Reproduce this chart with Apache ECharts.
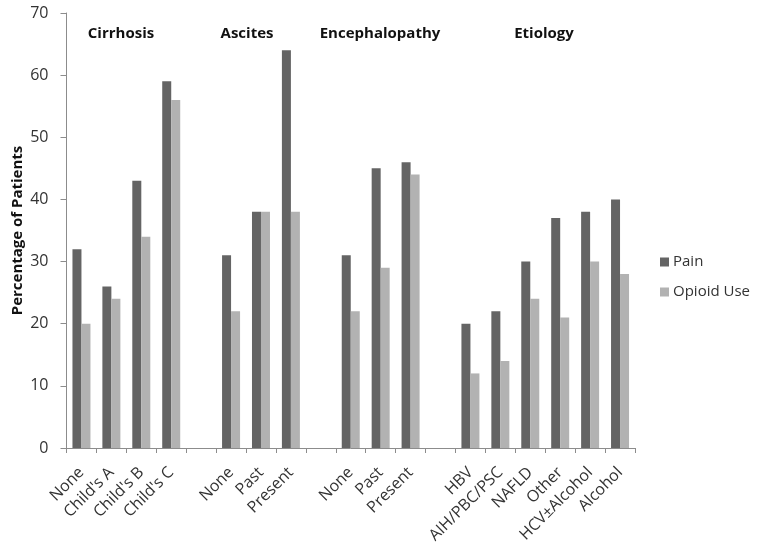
<!DOCTYPE html>
<html>
<head>
<meta charset="utf-8">
<script src="https://cdn.jsdelivr.net/npm/echarts@6/dist/echarts.min.js"></script>
<style>html,body{margin:0;padding:0;background:#fff;}#c{width:762px;height:552px;}</style>
</head>
<body>
<div id="c"></div>
<script>
var categories = ['None', "Child's A", "Child's B", "Child's C", '', 'None', 'Past', 'Present', '', 'None', 'Past', 'Present', '', 'HBV', 'AIH/PBC/PSC', 'NAFLD', 'Other', 'HCV\u00B1Alcohol', 'Alcohol'];
var painValues = [32, 26, 43, 59, null, 31, 38, 64, null, 31, 45, 46, null, 20, 22, 30, 37, 38, 40];
var opioidValues = [20, 24, 34, 56, null, 22, 38, 38, null, 22, 29, 44, null, 12, 14, 24, 21, 30, 28];
var groupTitles = ['Cirrhosis', 'Ascites', 'Encephalopathy', 'Etiology'];
var yTicks = [0, 10, 20, 30, 40, 50, 60, 70];

var titleX = [121, 247, 380, 544];
var chart = echarts.init(document.getElementById('c'), null, {renderer: 'canvas'});
var axisColor = '#8c8c8c';
var textColor = '#333333';
var font = '"Open Sans", sans-serif';
chart.setOption({
  animation: false,
  backgroundColor: '#ffffff',
  grid: {left: 66.5, right: 127, top: 13, bottom: 104, containLabel: false, outerBoundsMode: 'none'},
  legend: {
    orient: 'vertical', left: 655, top: 248,
    itemWidth: 9, itemHeight: 9, itemGap: 12, icon: 'rect',
    textStyle: {fontFamily: font, fontSize: 15, color: textColor, lineHeight: 18, padding: [0, 0, 0, -1]},
    data: ['Pain', 'Opioid Use']
  },
  xAxis: {
    type: 'category', data: categories,
    axisLine: {lineStyle: {color: axisColor, width: 1}},
    axisTick: {show: true, length: 5, lineStyle: {color: axisColor}, interval: 0},
    axisLabel: {rotate: 45, interval: 0, margin: 22, fontFamily: font, fontSize: 16, color: textColor}
  },
  yAxis: {
    type: 'value', min: 0, max: 70, interval: 10,
    name: 'Percentage of Patients', nameLocation: 'middle', nameGap: 41, nameMoveOverlap: false,
    nameTextStyle: {fontFamily: font, fontSize: 15, fontWeight: 'bold', color: '#111'},
    axisLine: {show: true, lineStyle: {color: axisColor}},
    axisTick: {show: true, length: 6, inside: false, lineStyle: {color: axisColor}},
    axisLabel: {margin: 18, fontFamily: font, fontSize: 16, color: textColor,
      formatter: function (v) { return yTicks.indexOf(v) >= 0 ? String(v) : ''; }},
    splitLine: {show: false}
  },
  series: [
    {name: 'Pain', type: 'bar', data: painValues, barWidth: 9, barGap: '0%', itemStyle: {color: '#646464'}},
    {name: 'Opioid Use', type: 'bar', data: opioidValues, barWidth: 9, barGap: '0%', itemStyle: {color: '#b2b2b2'}}
  ],
  graphic: groupTitles.map(function (t, i) {
    return {type: 'text', x: titleX[i], y: 34, style: {text: t, fontFamily: font, fontSize: 15, fontWeight: 'bold', fill: '#111', align: 'center', verticalAlign: 'middle'}};
  })
});
</script>
</body>
</html>
